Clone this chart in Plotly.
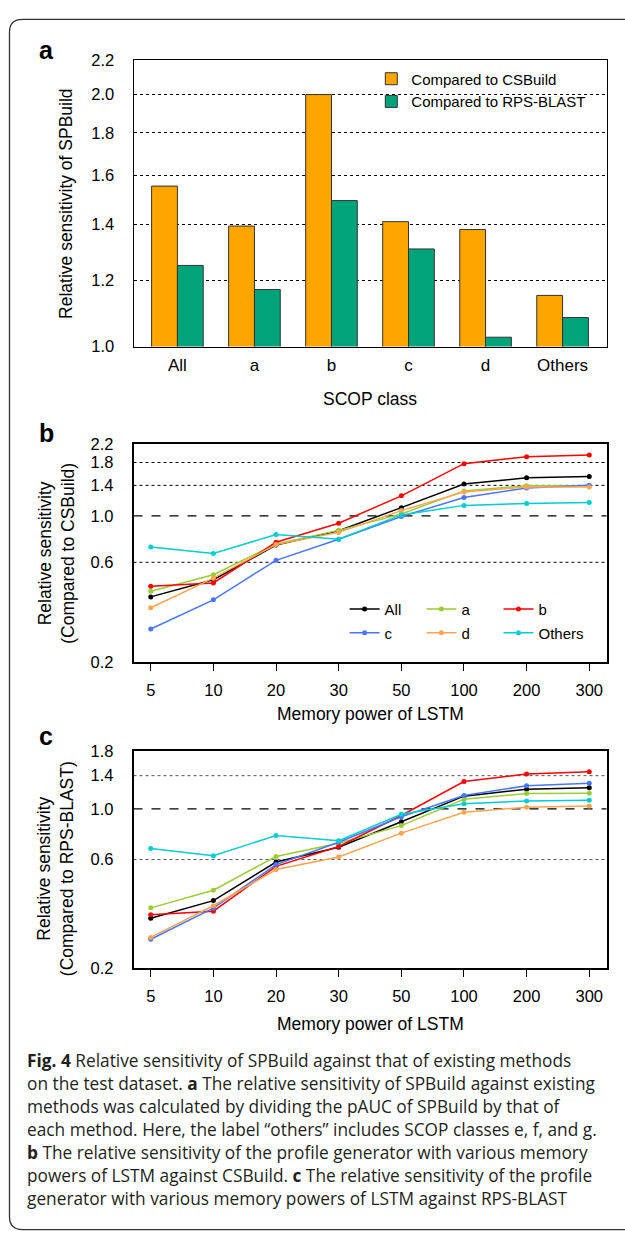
import math
import plotly.graph_objects as go

W, H = 625, 1242

# ---------------- data ----------------
scop_classes = ["All", "a", "b", "c", "d", "Others"]
rel_vs_csbuild = [1.555, 1.393, 2.000, 1.410, 1.380, 1.151]
rel_vs_rpsblast = [1.250, 1.170, 1.494, 1.308, 1.026, 1.083]

memory_power = ["5", "10", "20", "30", "50", "100", "200", "300"]
series_names = ["All", "a", "b", "c", "d", "Others"]
series_colors = ["#000000", "#9ACD32", "#FF0000", "#4876FF", "#FFA54F", "#00CED1"]

# panel b: compared to CSBuild
b_all = [0.410, 0.495, 0.725, 0.850, 1.095, 1.420, 1.522, 1.544]
b_a = [0.436, 0.523, 0.735, 0.853, 1.022, 1.317, 1.395, 1.395]
b_b = [0.461, 0.478, 0.748, 0.923, 1.247, 1.778, 1.919, 1.954]
b_c = [0.288, 0.397, 0.613, 0.773, 0.993, 1.225, 1.360, 1.400]
b_d = [0.364, 0.504, 0.730, 0.834, 1.060, 1.302, 1.375, 1.375]
b_others = [0.711, 0.662, 0.814, 0.773, 1.011, 1.123, 1.147, 1.160]

# panel c: compared to RPS-BLAST
c_all = [0.331, 0.396, 0.585, 0.679, 0.879, 1.138, 1.220, 1.240]
c_a = [0.368, 0.440, 0.619, 0.707, 0.845, 1.104, 1.168, 1.172]
c_b = [0.343, 0.356, 0.560, 0.684, 0.936, 1.320, 1.425, 1.458]
c_c = [0.268, 0.367, 0.570, 0.714, 0.924, 1.145, 1.265, 1.295]
c_d = [0.273, 0.376, 0.542, 0.615, 0.783, 0.967, 1.017, 1.030]
c_others = [0.670, 0.623, 0.765, 0.726, 0.948, 1.054, 1.083, 1.093]

a_ticks = [1.0, 1.2, 1.4, 1.6, 1.8, 2.0, 2.2]
b_ticks = [0.2, 0.6, 1.0, 1.4, 1.8, 2.2]
c_ticks = [0.2, 0.6, 1.0, 1.4, 1.8]
b_dotted = [0.6, 1.4, 1.8]
c_dotted = [0.6, 1.4]
dashed_ref = [1.0]

caption_lines = [
    "<b>Fig. 4</b> Relative sensitivity of SPBuild against that of existing methods",
    "on the test dataset. <b>a</b> The relative sensitivity of SPBuild against existing",
    "methods was calculated by dividing the pAUC of SPBuild by that of",
    "each method. Here, the label \u201cothers\u201d includes SCOP classes e, f, and g.",
    "<b>b</b> The relative sensitivity of the profile generator with various memory",
    "powers of LSTM against CSBuild. <b>c</b> The relative sensitivity of the profile",
    "generator with various memory powers of LSTM against RPS-BLAST",
]

# ---------------- helpers ----------------
def px(x):
    return x / W

def py(y):
    return 1 - y / H

FONT = "Liberation Sans, Arial, sans-serif"
CAP_FONT = "Open Sans, Noto Sans, sans-serif"

xdom = [px(133.5), px(606.5)]
dom_a = [py(342.5), py(51.7)]
dom_b = [py(662.7), py(441.7)]
dom_c = [py(973.3), py(752.7)]

fig = go.Figure()

# ---------------- panel a ----------------
fig.add_trace(go.Bar(
    x=scop_classes, y=rel_vs_csbuild, name="Compared to CSBuild",
    marker=dict(color="#FFA500", line=dict(color="#333333", width=1)),
    xaxis="x", yaxis="y", legend="legend",
))
fig.add_trace(go.Bar(
    x=scop_classes, y=rel_vs_rpsblast, name="Compared to RPS-BLAST",
    marker=dict(color="#00A37A", line=dict(color="#333333", width=1)),
    xaxis="x", yaxis="y", legend="legend2",
))

# ---------------- panels b, c ----------------
b_series = [b_all, b_a, b_b, b_c, b_d, b_others]
c_series = [c_all, c_a, c_b, c_c, c_d, c_others]
leg_names = ["legend3", "legend4", "legend5", "legend6", "legend7", "legend8"]

for name, col, vals, lg in zip(series_names, series_colors, b_series, leg_names):
    fig.add_trace(go.Scatter(
        x=memory_power, y=vals, name=name, mode="lines+markers",
        line=dict(color=col, width=1.5), marker=dict(color=col, size=5),
        xaxis="x2", yaxis="y2", legend=lg,
    ))
for name, col, vals in zip(series_names, series_colors, c_series):
    fig.add_trace(go.Scatter(
        x=memory_power, y=vals, name=name, mode="lines+markers",
        line=dict(color=col, width=1.5), marker=dict(color=col, size=5),
        xaxis="x3", yaxis="y3", showlegend=False,
    ))

tickfont = dict(family=FONT, size=16.5, color="black")

fig.update_layout(
    width=W, height=H, margin=dict(l=0, r=0, t=0, b=0),
    paper_bgcolor="white", plot_bgcolor="white",
    barmode="group", bargap=0.33, bargroupgap=0,
    xaxis=dict(domain=xdom, anchor="y", type="category", range=[-0.57, 5.57],
               showline=True, mirror=True, linecolor="black", linewidth=1,
               ticks="", tickfont=dict(family=FONT, size=17, color="black"),
               ticklabelstandoff=3, showgrid=False, zeroline=False),
    yaxis=dict(domain=dom_a, anchor="x", type="log",
               range=[math.log10(a_ticks[0]), math.log10(a_ticks[-1])],
               tickvals=a_ticks, ticktext=["%.1f" % v for v in a_ticks],
               showline=True, mirror=True, linecolor="black", linewidth=1,
               showgrid=True, gridcolor="black", griddash="dot", gridwidth=1,
               ticks="", tickfont=tickfont, ticklabelstandoff=15, zeroline=False),
    xaxis2=dict(domain=xdom, anchor="y2", type="category", range=[-0.275, 7.275],
                showline=True, mirror=True, linecolor="black", linewidth=1.5,
                ticks="outside", ticklen=7, tickwidth=1, tickcolor="black",
                tickfont=tickfont, ticklabelstandoff=5, showgrid=False, zeroline=False),
    yaxis2=dict(domain=dom_b, anchor="x2", type="log",
                range=[math.log10(b_ticks[0]), math.log10(b_ticks[-1])],
                tickvals=b_ticks, ticktext=["%.1f" % v for v in b_ticks],
                showline=True, mirror=True, linecolor="black", linewidth=1.5,
                showgrid=False, ticks="", tickfont=tickfont, ticklabelstandoff=15,
                zeroline=False),
    xaxis3=dict(domain=xdom, anchor="y3", type="category", range=[-0.275, 7.275],
                showline=True, mirror=True, linecolor="black", linewidth=1.5,
                ticks="outside", ticklen=7, tickwidth=1, tickcolor="black",
                tickfont=tickfont, ticklabelstandoff=5, showgrid=False, zeroline=False),
    yaxis3=dict(domain=dom_c, anchor="x3", type="log",
                range=[math.log10(c_ticks[0]), math.log10(c_ticks[-1])],
                tickvals=c_ticks, ticktext=["%.1f" % v for v in c_ticks],
                showline=True, mirror=True, linecolor="black", linewidth=1.5,
                showgrid=False, ticks="", tickfont=tickfont, ticklabelstandoff=15,
                zeroline=False),
)

# legends
leg_common = dict(xanchor="left", yanchor="middle", bgcolor="rgba(0,0,0,0)",
                  borderwidth=0, font=dict(family=FONT, size=15, color="black"))
layout_leg = {
    "legend": dict(x=px(371.3), y=py(71), **leg_common),
    "legend2": dict(x=px(371.3), y=py(94), **leg_common),
}
leg_pos = [(344.6, 609), (421.4, 609), (498.5, 609),
           (344.6, 633.3), (421.4, 633.3), (498.5, 633.3)]
for lg, (lx, ly) in zip(leg_names, leg_pos):
    layout_leg[lg] = dict(x=px(lx), y=py(ly), **leg_common)
fig.update_layout(**layout_leg)

# reference lines for b and c
shapes = []
for v in b_dotted:
    shapes.append(dict(type="line", xref="x2 domain", yref="y2", x0=0, x1=1, y0=v, y1=v,
                       line=dict(color="black", width=1, dash="dot"), layer="below"))
for v in c_dotted:
    shapes.append(dict(type="line", xref="x3 domain", yref="y3", x0=0, x1=1, y0=v, y1=v,
                       line=dict(color="#555555", width=1, dash="dot"), layer="below"))
for v in dashed_ref:
    for xr, yr in [("x2 domain", "y2"), ("x3 domain", "y3")]:
        shapes.append(dict(type="line", xref=xr, yref=yr, x0=0, x1=1, y0=v, y1=v,
                           line=dict(color="black", width=1.2, dash="dash"), layer="below"))

# outer rounded frame
L, T, B, R, r = 9.5, 10.5, 1238.5, 660.0, 13.0
frame_path = (
    f"M {px(R)},{py(T)} L {px(L + r)},{py(T)} "
    f"Q {px(L)},{py(T)} {px(L)},{py(T + r)} "
    f"L {px(L)},{py(B - r)} "
    f"Q {px(L)},{py(B)} {px(L + r)},{py(B)} "
    f"L {px(R)},{py(B)}"
)
shapes.append(dict(type="path", xref="paper", yref="paper", path=frame_path,
                   line=dict(color="#333333", width=1.3)))
fig.update_layout(shapes=shapes)

# annotations
ann = []
for lab, (ax_, ay_) in zip(["a", "b", "c"], [(46, 42), (46.6, 430), (46, 738)]):
    ann.append(dict(text=f"<b>{lab}</b>", x=px(ax_), y=py(ay_), xref="paper", yref="paper",
                    showarrow=False, xanchor="center", yanchor="middle",
                    font=dict(family=FONT, size=25, color="black")))

title_font = dict(family=FONT, size=17.5, color="black")
ann.append(dict(text="Relative sensitivity of SPBuild", textangle=-90,
                x=px(65.8), y=py(197), xref="paper", yref="paper", showarrow=False,
                xanchor="center", yanchor="middle", font=title_font))
ann.append(dict(text="Relative sensitivity<br>(Compared to CSBuild)", textangle=-90,
                x=px(55.8), y=py(552), xref="paper", yref="paper", showarrow=False,
                xanchor="center", yanchor="middle", font=title_font))
ann.append(dict(text="Relative sensitivity<br>(Compared to RPS-BLAST)", textangle=-90,
                x=px(55.8), y=py(872), xref="paper", yref="paper", showarrow=False,
                xanchor="center", yanchor="middle", font=title_font))
for txt, yy in [("SCOP class", 396), ("Memory power of LSTM", 715), ("Memory power of LSTM", 1030)]:
    ann.append(dict(text=txt, x=px(370), y=py(yy), xref="paper", yref="paper",
                    showarrow=False, xanchor="center", yanchor="middle", font=title_font))

for i, line in enumerate(caption_lines):
    ann.append(dict(text=line, x=px(25), y=py(1067 + 23.3 * i), xref="paper", yref="paper",
                    showarrow=False, xanchor="left", yanchor="middle", align="left",
                    font=dict(family=CAP_FONT, size=17.3, color="#231F20")))
fig.update_layout(annotations=ann)

fig.write_html("out.html")
